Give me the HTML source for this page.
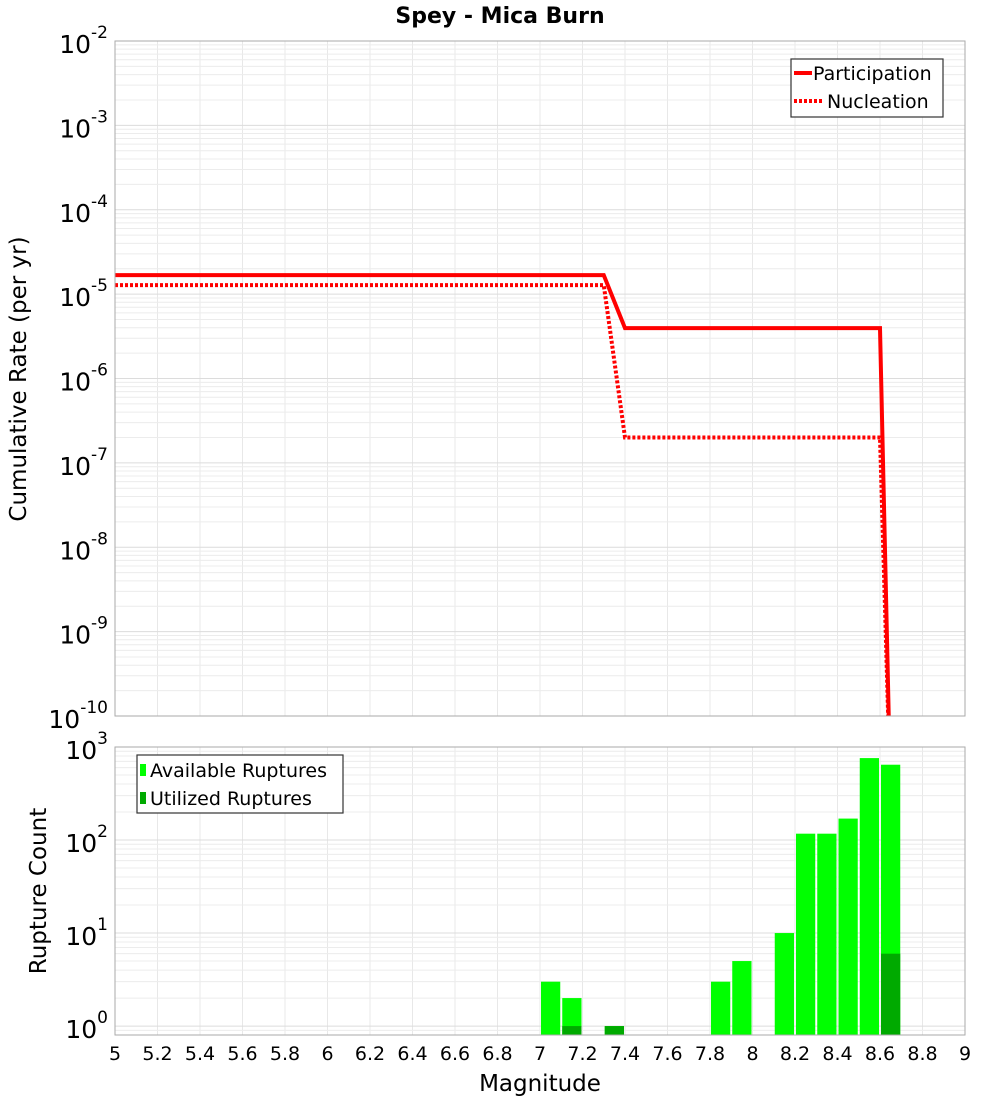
<!DOCTYPE html>
<html><head><meta charset="utf-8"><style>
body{margin:0;background:#fff;font-family:"DejaVu Sans","Liberation Sans",sans-serif;}
</style></head><body>
<svg id="chart" width="1000" height="1100" xmlns="http://www.w3.org/2000/svg" font-family="DejaVu Sans, Liberation Sans, sans-serif">
<g id="gtop"></g>
<g id="gbot"></g>
<text x="500" y="23" text-anchor="middle" font-size="22" font-weight="bold">Spey - Mica Burn</text>
<text transform="translate(26,379) rotate(-90)" text-anchor="middle" font-size="23">Cumulative Rate (per yr)</text>
<text transform="translate(46,891) rotate(-90)" text-anchor="middle" font-size="23">Rupture Count</text>
<text x="540" y="1091" text-anchor="middle" font-size="23">Magnitude</text>
<g>
<rect x="791" y="59" width="152" height="58" fill="#fff" stroke="#333" stroke-width="1.2"/>
<line x1="794" y1="73" x2="812" y2="73" stroke="#f00" stroke-width="4"/>
<text x="813" y="80" font-size="19">Participation</text>
<line x1="794" y1="101" x2="822" y2="101" stroke="#f00" stroke-width="4" stroke-dasharray="3,2"/>
<text x="827" y="108" font-size="19">Nucleation</text>
</g>
<g>
<rect x="137" y="755" width="206" height="58" fill="#fff" stroke="#333" stroke-width="1.2"/>
<rect x="140" y="764" width="6" height="12" fill="#00ff00"/>
<text x="150" y="777" font-size="19">Available Ruptures</text>
<rect x="140" y="792" width="6" height="12" fill="#00aa00"/>
<text x="150" y="805" font-size="19">Utilized Ruptures</text>
</g>
</svg>
<script>
const partMags=[5,7.3,7.4,8.6,8.65];
const partRates=[1.68e-5,1.68e-5,3.95e-6,3.95e-6,1e-11];
const nuclMags=[5,7.3,7.4,8.6,8.65];
const nuclRates=[1.28e-5,1.28e-5,2.0e-7,2.0e-7,1e-11];
const binCenters=[7.05,7.15,7.35,7.85,7.95,8.15,8.25,8.35,8.45,8.55,8.65];
const availCounts=[3,2,1,3,5,10,117,117,170,760,645];
const usedCounts=[0,1,1,0,0,0,0,0,0,0,6];
const xTicks=[5,5.2,5.4,5.6,5.8,6,6.2,6.4,6.6,6.8,7,7.2,7.4,7.6,7.8,8,8.2,8.4,8.6,8.8,9];
const rateExps=[-2,-3,-4,-5,-6,-7,-8,-9,-10];
const countExps=[0,1,2,3];
const NS="http://www.w3.org/2000/svg";
const X0=115,X1=965;
const xs=m=>X0+(m-5)/4*(X1-X0);
const T0=41,T1=716;
const ys=v=>T0+(-2-Math.log10(v))/8*(T1-T0);
const B0=747,B1=1035,bTop=3,bBot=-0.096;
const yb=v=>B0+(bTop-Math.log10(v))/(bTop-bBot)*(B1-B0);
function mk(p,t,a){const e=document.createElementNS(NS,t);for(const k in a)e.setAttribute(k,a[k]);p.appendChild(e);return e;}
const gTop=document.getElementById('gtop'),gBot=document.getElementById('gbot');
const defs=mk(gTop,'defs',{});
const c1=mk(defs,'clipPath',{id:'ct'});mk(c1,'rect',{x:X0,y:T0,width:X1-X0,height:T1-T0});
const c2=mk(defs,'clipPath',{id:'cb'});mk(c2,'rect',{x:X0,y:B0,width:X1-X0,height:B1-B0});
function grid(g,y0,y1,eMin,eMax,ymap){
  xTicks.forEach(t=>{const x=xs(t);const l=mk(g,'line',{x1:x,x2:x,y1:y0,y2:y1,stroke:'#e8e8e8','stroke-width':1});
  
  });
  for(let e=eMin;e<eMax;e++){for(let k=1;k<10;k++){const y=ymap(k*Math.pow(10,e));if(y<y0||y>y1)continue;
   const l=mk(g,'line',{x1:X0,x2:X1,y1:y,y2:y,stroke:k==1?'#dcdcdc':'#ececec','stroke-width':1});
   
   }}
}
grid(gTop,T0,T1,-10,-2,ys);
grid(gBot,B0,B1,-1,3,yb);
function line(arrX,arrY,dash,name){const d=arrX.map((m,i)=>(i?'L':'M')+xs(m)+','+ys(arrY[i])).join('');
 const p=mk(gTop,'path',{d:d,fill:'none',stroke:'#f00','stroke-width':4,'clip-path':'url(#ct)'});
 if(dash)p.setAttribute('stroke-dasharray','3,2');
 
 }
line(nuclMags,nuclRates,true,'nucleation-line');
line(partMags,partRates,false,'participation-line');
binCenters.forEach((c,i)=>{const x=xs(c-0.05)+1,w=xs(c+0.05)-xs(c-0.05)-2;
 if(availCounts[i]>0){const y=yb(availCounts[i]);const r=mk(gBot,'rect',{x:x,y:y,width:w,height:B1-y,fill:'#00ff00','clip-path':'url(#cb)'});
 
 }
 if(usedCounts[i]>0){const y=yb(usedCounts[i]);const r=mk(gBot,'rect',{x:x,y:y,width:w,height:B1-y,fill:'#00aa00','clip-path':'url(#cb)'});
 
 }
});
mk(gTop,'rect',{x:X0,y:T0,width:X1-X0,height:T1-T0,fill:'none',stroke:'#aaa'});
mk(gBot,'rect',{x:X0,y:B0,width:X1-X0,height:B1-B0,fill:'none',stroke:'#aaa'});
function expLabel(g,y,e,name){const t=mk(g,'text',{x:108,y:y+12,'text-anchor':'end','font-size':25});
 t.textContent='10';const s=mk(t,'tspan',{dy:-15,'font-size':17});s.textContent=String(e);
 
 }
rateExps.forEach(e=>expLabel(gTop,ys(Math.pow(10,e)),e,'y-tick-label-rate'));
countExps.forEach(e=>expLabel(gBot,yb(Math.pow(10,e)),e,'y-tick-label-count'));
xTicks.forEach(t=>{const tx=mk(gBot,'text',{x:xs(t),y:1060,'text-anchor':'middle','font-size':19});
 tx.textContent=String(t);
 
 });
</script>
</body></html>
